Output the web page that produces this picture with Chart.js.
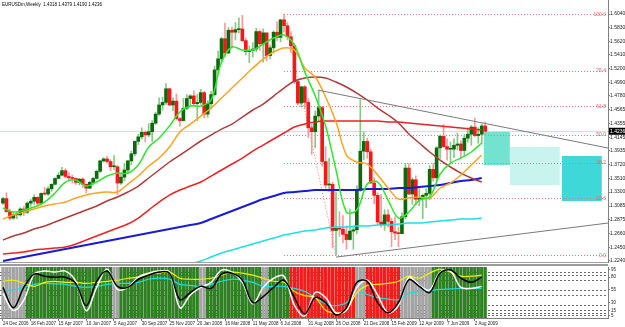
<!DOCTYPE html>
<html>
<head>
<meta charset="utf-8">
<script src="https://cdn.jsdelivr.net/npm/chart.js@4.4.0/dist/chart.umd.min.js"></script>
<style>
  html, body { margin: 0; padding: 0; background: #fff; }
  #wrap { position: relative; width: 625px; height: 327px; overflow: hidden; }
  .pane { position: absolute; left: 0; width: 625px; }
</style>
</head>
<body>
<div id="wrap">
  <div class="pane" style="top:0;height:263px"><canvas id="main" width="625" height="263"></canvas></div>
  <div class="pane" style="top:263px;height:64px"><canvas id="osc" width="625" height="64"></canvas></div>
</div>
<script>
// ---- weekly EURUSD candles, week 0 = 24 Dec 2006 ----
const opens = [
  1.3130,1.3200,1.3000,1.2900,1.2950,1.2950,1.3040,1.2990,1.3130,1.3160,
  1.3220,1.3130,1.3280,1.3270,1.3350,1.3420,1.3510,1.3560,1.3630,1.3540,
  1.3520,1.3510,1.3450,1.3500,1.3420,1.3360,1.3450,1.3510,1.3620,1.3780,
  1.3810,1.3770,1.3690,1.3690,1.3440,1.3530,1.3640,1.3780,1.3890,1.4080,
  1.4150,1.4220,1.4180,1.4230,1.4360,1.4500,1.4640,1.4680,1.4890,1.4640,
  1.4700,1.4430,1.4400,1.4590,1.4740,1.4780,1.4660,1.4680,1.4830,1.4500,
  1.4660,1.4800,1.5180,1.5350,1.5660,1.5440,1.5790,1.5760,1.5800,1.5810,
  1.5630,1.5460,1.5480,1.5500,1.5770,1.5580,1.5750,1.5400,1.5520,1.5760,
  1.5680,1.5950,1.5860,1.5690,1.5550,1.5000,1.4670,1.4920,1.4680,1.4290,
  1.4230,1.4470,1.4600,1.3770,1.3410,1.3420,1.2710,1.2740,1.2730,1.2650,
  1.2570,1.2700,1.2720,1.3330,1.3930,1.4080,1.3920,1.3440,1.3250,1.2840,
  1.2800,1.2950,1.2850,1.2690,1.2670,1.2660,1.2920,1.3670,1.3270,1.3490,
  1.3190,1.3200,1.3250,1.3280,1.3650,1.3520,1.3980,1.4160,1.4000,1.3960,
  1.3960,1.4020,1.4040,1.3940,1.4130,1.4190,1.4300,1.4170,1.4190,1.4318
];
const highs = [
  1.3220,1.3290,1.3040,1.2990,1.3000,1.3060,1.3080,1.3150,1.3190,1.3260,
  1.3230,1.3290,1.3370,1.3380,1.3430,1.3520,1.3600,1.3680,1.3660,1.3600,
  1.3560,1.3520,1.3510,1.3520,1.3430,1.3470,1.3530,1.3640,1.3790,1.3830,
  1.3850,1.3800,1.3860,1.3710,1.3580,1.3740,1.3790,1.3930,1.4090,1.4190,
  1.4290,1.4240,1.4350,1.4400,1.4530,1.4750,1.4760,1.4970,1.4900,1.4750,
  1.4810,1.4450,1.4740,1.4800,1.4800,1.4860,1.4800,1.4880,1.4850,1.4710,
  1.4850,1.5240,1.5470,1.5680,1.5900,1.5830,1.5840,1.5910,1.5980,1.6020,
  1.5670,1.5550,1.5600,1.5820,1.5790,1.5810,1.5750,1.5560,1.5780,1.5920,
  1.5960,1.6040,1.5910,1.5770,1.5590,1.5030,1.4930,1.4940,1.4740,1.4340,
  1.4550,1.4870,1.4620,1.4000,1.3820,1.3450,1.3300,1.3000,1.2940,1.2780,
  1.3040,1.2770,1.3400,1.4720,1.4230,1.4130,1.3960,1.3520,1.3290,1.3260,
  1.3030,1.3030,1.2900,1.2920,1.2760,1.2980,1.3740,1.3740,1.3520,1.3550,
  1.3350,1.3270,1.3350,1.3710,1.3740,1.4000,1.4180,1.4340,1.4120,1.4070,
  1.4120,1.4210,1.4090,1.4190,1.4290,1.4330,1.4440,1.4290,1.4350,1.4379
];
const lows = [
  1.3110,1.2990,1.2870,1.2880,1.2890,1.2930,1.2940,1.2970,1.3080,1.3110,
  1.3080,1.3100,1.3250,1.3250,1.3310,1.3410,1.3500,1.3550,1.3520,1.3480,
  1.3440,1.3420,1.3410,1.3370,1.3290,1.3350,1.3420,1.3500,1.3600,1.3760,
  1.3740,1.3630,1.3650,1.3260,1.3420,1.3470,1.3580,1.3720,1.3860,1.4030,
  1.4120,1.4070,1.4150,1.4080,1.4340,1.4480,1.4560,1.4650,1.4630,1.4550,
  1.4410,1.4310,1.4390,1.4570,1.4620,1.4610,1.4400,1.4650,1.4440,1.4450,
  1.4580,1.4780,1.5120,1.5290,1.5380,1.5430,1.5520,1.5640,1.5750,1.5620,
  1.5410,1.5290,1.5380,1.5460,1.5480,1.5300,1.5320,1.5350,1.5440,1.5630,
  1.5610,1.5760,1.5640,1.5450,1.4970,1.4640,1.4610,1.4590,1.4140,1.3880,
  1.3980,1.4380,1.3700,1.3360,1.3310,1.2440,1.2330,1.2620,1.2520,1.2420,
  1.2560,1.2420,1.2660,1.3310,1.3800,1.3820,1.3430,1.3120,1.2800,1.2760,
  1.2710,1.2760,1.2460,1.2570,1.2460,1.2660,1.2890,1.3260,1.3110,1.3100,
  1.3090,1.2890,1.3060,1.3180,1.3470,1.3470,1.3820,1.3990,1.3790,1.3760,
  1.3830,1.3950,1.3830,1.3860,1.4070,1.4020,1.4150,1.4050,1.4040,1.4190
];
const closes = [
  1.3200,1.3000,1.2900,1.2950,1.2950,1.3040,1.2990,1.3130,1.3160,1.3220,
  1.3130,1.3280,1.3270,1.3350,1.3420,1.3510,1.3560,1.3630,1.3540,1.3520,
  1.3510,1.3450,1.3500,1.3420,1.3360,1.3450,1.3510,1.3620,1.3780,1.3810,
  1.3770,1.3690,1.3690,1.3440,1.3530,1.3640,1.3780,1.3890,1.4080,1.4150,
  1.4220,1.4180,1.4230,1.4360,1.4500,1.4640,1.4680,1.4890,1.4640,1.4700,
  1.4430,1.4400,1.4590,1.4740,1.4780,1.4660,1.4680,1.4830,1.4500,1.4660,
  1.4800,1.5180,1.5350,1.5660,1.5440,1.5790,1.5760,1.5800,1.5810,1.5630,
  1.5460,1.5480,1.5500,1.5770,1.5580,1.5750,1.5400,1.5520,1.5760,1.5680,
  1.5950,1.5860,1.5690,1.5550,1.5000,1.4670,1.4920,1.4680,1.4290,1.4230,
  1.4470,1.4600,1.3770,1.3410,1.3420,1.2710,1.2740,1.2730,1.2650,1.2570,
  1.2700,1.2720,1.3330,1.3930,1.4080,1.3920,1.3440,1.3250,1.2840,1.2800,
  1.2950,1.2850,1.2690,1.2670,1.2660,1.2920,1.3670,1.3270,1.3490,1.3190,
  1.3200,1.3250,1.3280,1.3650,1.3520,1.3980,1.4160,1.4000,1.3960,1.3960,
  1.4020,1.4040,1.3940,1.4130,1.4190,1.4300,1.4170,1.4190,1.4318,1.4236
];

// x-axis date labels, one every 8 weeks
const dateLabels = ["24 Dec 2006","18 Feb 2007","15 Apr 2007","10 Jun 2007","5 Aug 2007",
  "30 Sep 2007","25 Nov 2007","20 Jan 2008","16 Mar 2008","11 May 2008","6 Jul 2008",
  "31 Aug 2008","26 Oct 2008","21 Dec 2008","15 Feb 2009","12 Apr 2009","7 Jun 2009","2 Aug 2009"];
const priceTicks = [1.6040,1.5830,1.5620,1.5410,1.5200,1.4990,1.4780,1.4565,1.4355,1.4145,
  1.3935,1.3720,1.3510,1.3300,1.3085,1.2875,1.2660,1.2450,1.2240];

// moving averages, every 3 weeks
const sampleWeeks = [0,3,6,9,12,15,18,21,24,27,30,33,36,39,42,45,48,51,54,57,60,63,66,69,
  72,75,78,81,84,87,90,93,96,99,102,105,108,111,114,117,120,123,126,129,132,135,138];
const maFast = [1.3055,1.2993,1.3024,1.3070,1.3147,1.3286,1.3455,1.3486,1.3393,1.3455,
  1.3547,1.3593,1.3593,1.3717,1.3993,1.4132,1.4317,1.4532,1.4624,1.4624,1.4717,1.5301,
  1.5532,1.5486,1.5486,1.5578,1.5670,1.5717,1.5563,1.5147,1.4778,1.4317,1.3640,1.2993,
  1.3024,1.3424,1.3455,1.3178,1.2901,1.2993,1.3178,1.3224,1.3578,1.3747,1.3824,1.3917,1.4055];
const maMid = [1.2886,1.2947,1.2993,1.3040,1.3086,1.3117,1.3147,1.3209,1.3255,1.3286,
  1.3301,1.3301,1.3424,1.3547,1.3701,1.3824,1.3993,1.4224,1.4347,1.4470,1.4593,1.4747,
  1.4901,1.5055,1.5209,1.5347,1.5455,1.5517,1.5486,1.5209,1.5070,1.4763,1.4378,1.3870,
  1.3763,1.3732,1.3563,1.3363,1.3193,1.3209,1.3224,1.3209,1.3363,1.3440,1.3563,1.3717,1.3870];
const maSlow = [1.2563,1.2624,1.2670,1.2732,1.2778,1.2840,1.2901,1.2963,1.3024,1.3086,
  1.3163,1.3224,1.3301,1.3393,1.3517,1.3640,1.3763,1.3870,1.3978,1.4086,1.4178,1.4270,
  1.4347,1.4455,1.4563,1.4655,1.4778,1.4901,1.5009,1.5055,1.5070,1.5055,1.4993,1.4917,
  1.4824,1.4717,1.4593,1.4486,1.4363,1.4193,1.4055,1.3917,1.3793,1.3686,1.3593,1.3517,1.3455];
const maLong = [1.2347,1.2363,1.2378,1.2409,1.2424,1.2440,1.2455,1.2501,1.2563,1.2624,
  1.2686,1.2747,1.2809,1.2901,1.3024,1.3147,1.3255,1.3332,1.3393,1.3455,1.3547,1.3640,
  1.3732,1.3824,1.3932,1.4024,1.4117,1.4209,1.4301,1.4347,1.4378,1.4393,1.4393,1.4393,
  1.4393,1.4393,1.4393,1.4378,1.4378,1.4363,1.4347,1.4332,1.4317,1.4301,1.4286,1.4270,1.4255];
const maBlue = [1.2240,1.2270,1.2301,1.2332,1.2363,1.2393,1.2424,1.2455,1.2486,1.2517,
  1.2547,1.2578,1.2609,1.2640,1.2670,1.2701,1.2732,1.2763,1.2793,1.2824,1.2886,1.2947,
  1.3009,1.3070,1.3132,1.3193,1.3240,1.3286,1.3301,1.3317,1.3332,1.3332,1.3332,1.3332,
  1.3332,1.3347,1.3347,1.3347,1.3363,1.3363,1.3378,1.3393,1.3409,1.3440,1.3470,1.3486,1.3517];
const maCyan = [null,null,null,null,null,null,null,null,null,null,null,null,null,null,null,null,null,
  1.2132,1.2193,1.2240,1.2301,1.2363,1.2409,1.2455,1.2501,1.2547,1.2593,1.2640,1.2670,1.2701,
  1.2717,1.2747,1.2763,1.2763,1.2778,1.2778,1.2793,1.2793,1.2809,1.2824,1.2824,1.2840,1.2855,
  1.2870,1.2886,1.2886,1.2901];

// fibonacci retracement (high of Jul 2008 to low of Oct 2008)
const fibHigh = 1.6038, fibLow = 1.2330;
const fibHighWeek = 81, fibLowWeek = 96;
const fibLevels = [100.0, 76.4, 61.8, 50.0, 38.2, 23.6, 0.0];

// trendlines [week, price, week, price]
const trendUpper = [91, 1.4867, 174.4, 1.3978];
const trendLower = [96, 1.2300, 174.4, 1.2824];

// projection boxes [weekFrom, weekTo, priceTop, priceBottom]
const boxA = [138.6, 146.1, 1.4240, 1.3717];
const boxB = [146.1, 160.5, 1.3993, 1.3409];
const boxC = [161.1, 172.6, 1.3855, 1.3163];

// oscillator panel
const oscBlack = [60,20,60,86,82,80,80,68,24,72,92,62,60,76,84,90,88,36,50,62,58,86,88,74,
  30,42,60,74,40,8,40,30,6,20,70,72,30,10,30,75,62,50,88,94,78,70,80];
const oscWhite = [48,15,35,86,92,90,92,72,14,60,96,56,60,80,88,92,90,20,45,60,70,94,90,70,
  28,60,78,82,25,4,50,40,10,15,60,74,45,10,25,80,64,55,90,92,60,58,62];
const oscYellow = [72,74,68,62,70,72,70,70,68,70,72,74,78,80,86,88,90,78,76,76,78,84,90,88,
  84,78,72,70,52,44,40,15,10,16,50,64,66,68,72,82,78,88,96,90,82,82,84];
const oscCyan = [56,55,60,66,68,67,66,62,60,62,66,68,68,70,76,78,76,66,64,62,66,72,76,74,
  70,62,62,62,58,52,40,28,24,30,52,46,40,37,36,48,52,54,56,57,58,58,58];
const zoneFrom = [0,7,32,34,57,59,75,77,83,102,105,115,124];
const zoneKind = ['flat','up','flat','up','flat','up','flat','up','down','flat','down','flat','up'];
const oscTicks = [95,90,80,70,55,45,30,20,15,10,5];
const oscLevels = [90,85,75,55,45,25,15,10,5];

// ---- drawing ----
const FONT = "'Liberation Sans', Arial, sans-serif";
const X_MIN = -0.86, X_MAX = 174.4;
const weeks = opens.map((_, i) => i);
const last = weeks.length - 1;
const isUp = weeks.map(i => closes[i] >= opens[i]);
const maLine = vals => sampleWeeks.map((w, k) => ({ x: w, y: vals[k] }));
const zoneColors = { up: '#2f7f23', down: '#f21c1c', flat: '#a4a4a4' };
const zoneOf = i => { let k = 0; zoneFrom.forEach((f, j) => { if (i >= f) k = j; }); return zoneKind[k]; };

function lineDs(data, color, width, order) {
  return { type: 'line', data, borderColor: color, borderWidth: width, pointRadius: 0,
           tension: 0.35, fill: false, order, spanGaps: false };
}

const overlay = {
  id: 'overlay',
  beforeDatasetsDraw(chart) {
    const { ctx, chartArea: a, scales: { x, y } } = chart;
    ctx.save();
    ctx.beginPath(); ctx.rect(a.left, a.top, a.width, a.height); ctx.clip();
    const box = (b, c) => {
      const x0 = x.getPixelForValue(b[0]), x1 = x.getPixelForValue(b[1]);
      const y0 = y.getPixelForValue(b[2]), y1 = y.getPixelForValue(b[3]);
      ctx.fillStyle = c; ctx.fillRect(x0, y0, x1 - x0, y1 - y0);
    };
    box(boxB, '#c9f3ef');
    box(boxA, '#73e2cf');
    box(boxC, '#3fd8d8');
    // current price line
    const py = Math.round(y.getPixelForValue(closes[last])) + 0.5;
    ctx.strokeStyle = '#aeeeee'; ctx.lineWidth = 1;
    ctx.beginPath(); ctx.moveTo(a.left, py); ctx.lineTo(a.right, py); ctx.stroke();
    // fibonacci
    ctx.strokeStyle = '#e27a7a'; ctx.setLineDash([1, 2]);
    const fx = x.getPixelForValue(fibHighWeek);
    fibLevels.forEach(l => {
      const fy = Math.round(y.getPixelForValue(fibLow + (fibHigh - fibLow) * l / 100)) + 0.5;
      ctx.beginPath(); ctx.moveTo(fx, fy); ctx.lineTo(a.right, fy); ctx.stroke();
    });
    ctx.beginPath();
    ctx.moveTo(fx, y.getPixelForValue(fibHigh));
    ctx.lineTo(x.getPixelForValue(fibLowWeek), y.getPixelForValue(fibLow));
    ctx.stroke();
    ctx.restore();
  },
  afterDatasetsDraw(chart) {
    const { ctx, chartArea: a, scales: { x, y } } = chart;
    ctx.save();
    ctx.beginPath(); ctx.rect(a.left, a.top, a.width, a.height); ctx.clip();
    ctx.strokeStyle = '#7a7a7a'; ctx.lineWidth = 1;
    [trendUpper, trendLower].forEach(t => {
      ctx.beginPath();
      ctx.moveTo(x.getPixelForValue(t[0]), y.getPixelForValue(t[1]));
      ctx.lineTo(x.getPixelForValue(t[2]), y.getPixelForValue(t[3]));
      ctx.stroke();
    });
    ctx.font = '5px ' + FONT; ctx.fillStyle = '#e06464';
    ctx.textAlign = 'right'; ctx.textBaseline = 'middle';
    fibLevels.forEach(l => {
      ctx.fillText(l.toFixed(1), a.right - 2, y.getPixelForValue(fibLow + (fibHigh - fibLow) * l / 100));
    });
    ctx.restore();
  },
  afterDraw(chart) {
    const { ctx, chartArea: a, scales: { y } } = chart;
    ctx.save();
    ctx.fillStyle = '#a0a0a0';
    ctx.fillRect(0, a.bottom, a.right, 1);
    // title
    ctx.font = '4.5px ' + FONT; ctx.fillStyle = '#000';
    ctx.textAlign = 'left'; ctx.textBaseline = 'middle';
    const f = v => v.toFixed(4);
    ctx.fillText('EURUSDm,Weekly  ' + f(opens[last]) + ' ' + f(highs[last]) + ' ' +
                 f(lows[last]) + ' ' + f(closes[last]), 2, 5);
    // current price tag
    const py = y.getPixelForValue(closes[last]);
    ctx.fillStyle = '#000'; ctx.fillRect(a.right + 1, py - 3.5, 17, 7);
    ctx.fillStyle = '#fff'; ctx.font = '5px ' + FONT;
    ctx.fillText(f(closes[last]), a.right + 2, py);
    ctx.restore();
  }
};

new Chart(document.getElementById('main'), {
  type: 'bar',
  data: {
    datasets: [
      lineDs(maLine(maFast), '#2ee62e', 1.5, 0),
      lineDs(maLine(maMid), '#ffa31f', 1.5, 1),
      lineDs(maLine(maSlow), '#b03a3a', 1.5, 2),
      lineDs(maLine(maLong), '#ee2222', 1.5, 3),
      lineDs(maLine(maBlue), '#1a1ad6', 2, 4),
      lineDs(maLine(maCyan), '#1ee0e8', 1.5, 5),
      { type: 'bar', data: weeks.map(i => ({ x: i, y: [opens[i], closes[i]] })),
        backgroundColor: weeks.map(i => isUp[i] ? '#0c6a0c' : '#f41818'),
        barThickness: 3, grouped: false, minBarLength: 1, order: 8 },
      { type: 'bar', data: weeks.map(i => ({ x: i, y: [lows[i], highs[i]] })),
        backgroundColor: weeks.map(i => isUp[i] ? '#86c886' : '#f59b9b'),
        barThickness: 1, grouped: false, order: 9 }
    ]
  },
  options: {
    responsive: false, animation: false,
    layout: { padding: { left: 0, right: 0, top: 0, bottom: 1 } },
    plugins: { legend: { display: false }, tooltip: { enabled: false } },
    scales: {
      x: { type: 'linear', min: X_MIN, max: X_MAX, bounds: 'data', offset: false, display: false,
           grid: { offset: false } },
      y: {
        position: 'right', min: 1.22246, max: 1.62554, bounds: 'data',
        afterBuildTicks: s => { s.ticks = priceTicks.map(v => ({ value: v })); },
        afterFit: s => { s.width = 17; s.paddingTop = 0; s.paddingBottom = 0; },
        ticks: { font: { family: FONT, size: 5 }, color: '#222', padding: 0,
                 callback: v => Number(v).toFixed(4) },
        grid: { drawOnChartArea: false, tickLength: 2, color: '#808080' },
        border: { color: '#808080' }
      }
    }
  },
  plugins: [overlay]
});

const oscDeco = {
  id: 'oscDeco',
  beforeDatasetsDraw(chart) {
    const { ctx, chartArea: a, scales: { y } } = chart;
    ctx.save();
    ctx.strokeStyle = '#6a6a6a'; ctx.lineWidth = 1; ctx.setLineDash([2, 2]);
    oscLevels.forEach(l => {
      const py = Math.round(y.getPixelForValue(l)) + 0.5;
      ctx.beginPath(); ctx.moveTo(a.left, py); ctx.lineTo(a.right, py); ctx.stroke();
    });
    ctx.restore();
  },
  afterDraw(chart) {
    const { ctx, chartArea: a } = chart;
    ctx.save();
    ctx.fillStyle = '#9c9c9c';
    ctx.fillRect(0, 1, a.right, 2);
    ctx.restore();
  }
};

new Chart(document.getElementById('osc'), {
  type: 'bar',
  data: {
    datasets: [
      lineDs(maLine(oscBlack), '#000000', 1.5, 0),
      lineDs(maLine(oscWhite), '#ffffff', 1.5, 1),
      lineDs(maLine(oscYellow), '#f0f000', 1.2, 2),
      lineDs(maLine(oscCyan), '#12e0e6', 1.2, 3),
      { type: 'bar', data: weeks.map(i => ({ x: i, y: [0, 100] })),
        backgroundColor: weeks.map(i => zoneColors[zoneOf(i)]),
        barThickness: 2.6, grouped: false, order: 10 }
    ]
  },
  options: {
    responsive: false, animation: false,
    layout: { padding: { left: 0, right: 0, top: 4, bottom: 0 } },
    plugins: { legend: { display: false }, tooltip: { enabled: false } },
    scales: {
      x: {
        type: 'linear', min: X_MIN, max: X_MAX, bounds: 'data', offset: false,
        afterBuildTicks: s => { s.ticks = dateLabels.map((_, k) => ({ value: k * 8 })); },
        afterFit: s => { s.height = 9; s.paddingLeft = 0; s.paddingRight = 0; },
        ticks: { font: { family: FONT, size: 4.5 }, color: '#222', padding: 0, align: 'start',
                 maxRotation: 0, autoSkip: false, callback: (v, i) => dateLabels[i] },
        grid: { drawOnChartArea: false, tickLength: 3, color: '#808080', offset: false },
        border: { color: '#808080' }
      },
      y: {
        position: 'right', min: 0, max: 100, bounds: 'data',
        afterBuildTicks: s => { s.ticks = oscTicks.map(v => ({ value: v })); },
        afterFit: s => { s.width = 17; s.paddingTop = 0; s.paddingBottom = 0; },
        ticks: { font: { family: FONT, size: 4.5 }, color: '#222', padding: 1,
                 callback: v => String(v) },
        grid: { drawOnChartArea: false, tickLength: 2, color: '#808080' },
        border: { color: '#808080' }
      }
    }
  },
  plugins: [oscDeco]
});
</script>
</body>
</html>
